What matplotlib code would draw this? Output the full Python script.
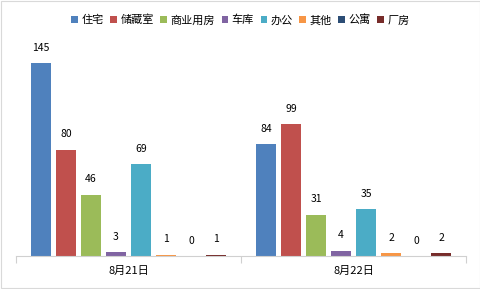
import numpy as np
import matplotlib as mpl
mpl.use('Agg')
import matplotlib.pyplot as plt
from matplotlib.patches import Rectangle

plt.rcParams['font.family'] = ['Noto Sans CJK SC', 'DejaVu Sans']

# data
dates = ['8月21日', '8月22日']
types = ['住宅', '储藏室', '商业用房', '车库', '办公', '其他', '公寓', '厂房']
day1 = [145, 80, 46, 3, 69, 1, 0, 1]
day2 = [84, 99, 31, 4, 35, 2, 0, 2]
colors = ['#4F81BD', '#C0504D', '#9BBB59', '#8064A2', '#4BACC6',
          '#F79646', '#2C4D75', '#772C2A']

fig = plt.figure(figsize=(4.81, 2.89), dpi=100)
fig.patches.append(Rectangle((0.002, 0.003), 0.995, 0.992, transform=fig.transFigure,
                             fill=False, edgecolor='#d9d9d9', linewidth=0.8))

W, H = 481, 289
ax = fig.add_axes([16 / W, (H - 256) / H, 450 / W, 213 / H])

x = np.arange(len(dates))
step = 25 / 225
width = 20 / 225
vals = np.array([day1, day2])
for i, t in enumerate(types):
    pos = x + (i - 3.5) * step
    ax.bar(pos, vals[:, i], width=width, color=colors[i], label=t)
    for p, v in zip(pos, vals[:, i]):
        ax.annotate(str(v), xy=(p, v), xytext=(0, 11), textcoords='offset points',
                    ha='center', va='center', fontsize=7.5, color='#000000')

ax.set_xlim(-0.5, 1.5)
ax.set_ylim(0, 160)
ax.set_yticks([])
for s in ['top', 'right', 'left']:
    ax.spines[s].set_visible(False)
ax.spines['bottom'].set_color('#d0d0d0')
ax.spines['bottom'].set_linewidth(0.8)

ax.set_xticks(x)
ax.set_xticklabels(dates, fontsize=8)
ax.tick_params(axis='x', which='major', length=0, pad=7)
ax.set_xticks([-0.5, 0.5, 1.5], minor=True)
ax.tick_params(axis='x', which='minor', length=5, color='#d0d0d0', width=0.8)

fig.legend(loc='center', bbox_to_anchor=(0.5, 1 - 20 / H), ncol=8, frameon=False,
           fontsize=8, handlelength=0.6, handleheight=0.6, handletextpad=0.3,
           columnspacing=0.6)

fig.savefig('out.png', dpi=100)
